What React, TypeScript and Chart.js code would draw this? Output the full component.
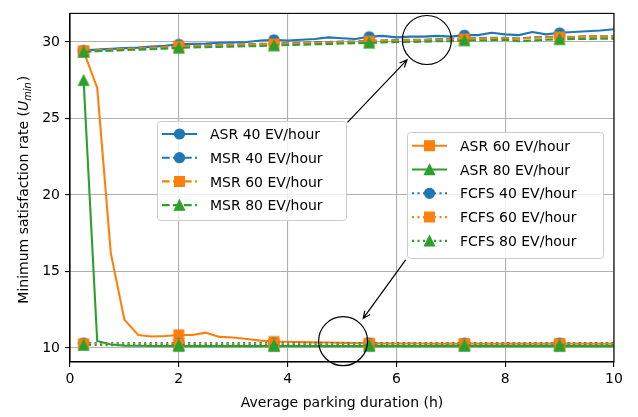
import React, { useEffect, useRef } from 'react';
import { Chart, registerables } from 'chart.js';

Chart.register(...registerables);

// ---------------- data ----------------
const durations = [0.25, 0.5, 0.75, 1, 1.25, 1.5, 1.75, 2, 2.25, 2.5, 2.75, 3, 3.25, 3.5, 3.75, 4, 4.25, 4.5, 4.75, 5,
  5.25, 5.5, 5.75, 6, 6.25, 6.5, 6.75, 7, 7.25, 7.5, 7.75, 8, 8.25, 8.5, 8.75, 9, 9.25, 9.5, 9.75, 10];

const asr40 = [29.45, 29.5, 29.55, 29.6, 29.63, 29.7, 29.75, 29.85, 29.88, 29.9, 29.95, 29.97, 30.0, 30.1, 30.15, 30.1,
  30.15, 30.2, 30.3, 30.25, 30.2, 30.35, 30.4, 30.3, 30.35, 30.35, 30.4, 30.35, 30.45, 30.45, 30.6, 30.5, 30.45, 30.65,
  30.5, 30.6, 30.65, 30.7, 30.75, 30.83];
const asr60 = [29.4, 27.0, 16.2, 11.85, 10.85, 10.75, 10.78, 10.85, 10.85, 11.0, 10.72, 10.68, 10.58, 10.48, 10.42, 10.4,
  10.38, 10.36, 10.35, 10.33, 10.32, 10.3, 10.3, 10.29, 10.3, 10.29, 10.28, 10.29, 10.28, 10.28, 10.29, 10.28,
  10.28, 10.29, 10.28, 10.28, 10.28, 10.29, 10.28, 10.28];
const asr80 = [27.5, 10.45, 10.22, 10.15, 10.14, 10.13, 10.13, 10.12, 10.12, 10.13, 10.12, 10.12, 10.13, 10.12, 10.12, 10.12,
  10.13, 10.12, 10.12, 10.12, 10.13, 10.12, 10.12, 10.12, 10.13, 10.12, 10.12, 10.12, 10.13, 10.12, 10.12, 10.12,
  10.13, 10.12, 10.12, 10.12, 10.13, 10.12, 10.12, 10.12];
const msr40 = [29.42, 29.47, 29.52, 29.57, 29.6, 29.65, 29.7, 29.75, 29.77, 29.79, 29.81, 29.83, 29.86, 29.88, 29.9, 29.93,
  29.95, 29.98, 30.0, 30.03, 30.03, 30.08, 30.1, 30.13, 30.15, 30.15, 30.18, 30.2, 30.23, 30.25, 30.28, 30.28, 30.23, 30.3,
  30.33, 30.35, 30.33, 30.38, 30.38, 30.38];
const msr60 = [29.4, 29.45, 29.5, 29.55, 29.58, 29.62, 29.67, 29.72, 29.74, 29.76, 29.78, 29.8, 29.83, 29.85, 29.87, 29.9,
  29.92, 29.95, 29.97, 30.0, 30.0, 30.05, 30.08, 30.1, 30.12, 30.12, 30.15, 30.18, 30.2, 30.22, 30.25, 30.25, 30.2, 30.28,
  30.3, 30.32, 30.3, 30.35, 30.35, 30.35];
const msr80 = [29.35, 29.4, 29.43, 29.47, 29.5, 29.53, 29.57, 29.62, 29.64, 29.66, 29.68, 29.7, 29.72, 29.74, 29.77, 29.8,
  29.82, 29.85, 29.87, 29.9, 29.92, 29.95, 29.97, 30.0, 30.0, 30.02, 30.05, 30.05, 30.1, 30.1, 30.12, 30.15, 30.05, 30.1,
  30.15, 30.18, 30.2, 30.2, 30.22, 30.22];
const fcfs40 = [10.33, 10.32, 10.32, 10.31, 10.32, 10.32, 10.31, 10.32, 10.32, 10.31, 10.32, 10.32, 10.31, 10.32, 10.32, 10.32,
  10.31, 10.32, 10.32, 10.32, 10.31, 10.32, 10.32, 10.32, 10.31, 10.32, 10.32, 10.32, 10.31, 10.32, 10.32, 10.32,
  10.31, 10.32, 10.32, 10.32, 10.31, 10.32, 10.32, 10.32];
const fcfs60 = [10.27, 10.26, 10.26, 10.26, 10.25, 10.26, 10.26, 10.26, 10.25, 10.26, 10.26, 10.26, 10.25, 10.26, 10.26, 10.26,
  10.25, 10.26, 10.26, 10.26, 10.25, 10.26, 10.26, 10.26, 10.25, 10.26, 10.26, 10.26, 10.25, 10.26, 10.26, 10.26,
  10.25, 10.26, 10.26, 10.26, 10.25, 10.26, 10.26, 10.26];
const fcfs80 = [10.19, 10.19, 10.18, 10.19, 10.19, 10.18, 10.19, 10.19, 10.18, 10.19, 10.19, 10.18, 10.19, 10.19, 10.18, 10.19,
  10.19, 10.18, 10.19, 10.19, 10.18, 10.19, 10.19, 10.18, 10.19, 10.19, 10.18, 10.19, 10.19, 10.18, 10.19, 10.19,
  10.18, 10.19, 10.19, 10.18, 10.19, 10.19, 10.18, 10.19];

const seriesLabels = ['ASR 40 EV/hour', 'ASR 60 EV/hour', 'ASR 80 EV/hour', 'MSR 40 EV/hour', 'MSR 60 EV/hour',
  'MSR 80 EV/hour', 'FCFS 40 EV/hour', 'FCFS 60 EV/hour', 'FCFS 80 EV/hour'];
const seriesValues = [asr40, asr60, asr80, msr40, msr60, msr80, fcfs40, fcfs60, fcfs80];

const legendLeft = ['ASR 40 EV/hour', 'MSR 40 EV/hour', 'MSR 60 EV/hour', 'MSR 80 EV/hour'];
const legendRight = ['ASR 60 EV/hour', 'ASR 80 EV/hour', 'FCFS 40 EV/hour', 'FCFS 60 EV/hour', 'FCFS 80 EV/hour'];

const xTicks = [0, 2, 4, 6, 8, 10];
const yTicks = [10, 15, 20, 25, 30];
const xTitle = 'Average parking duration (h)';
const yTitleMain = 'Minimum satisfaction rate (';
const yTitleVar = 'U';
const yTitleSub = 'min';
const yTitleEnd = ')';

// ---------------- styles ----------------
const FONT = "'DejaVu Sans'";
const BLUE = '#1f77b4';
const ORANGE = '#ff7f0e';
const GREEN = '#2ca02c';
const LW = 2.1;
const DASHES: Record<string, number[]> = { solid: [], dashed: [7.7, 3.3], dotted: [2.1, 3.4] };
const MARK_EVERY = 7;

type Style = { color: string; marker: string; line: string };
const STYLES: Record<string, Style> = {
  'ASR 40 EV/hour': { color: BLUE, marker: 'circle', line: 'solid' },
  'ASR 60 EV/hour': { color: ORANGE, marker: 'square', line: 'solid' },
  'ASR 80 EV/hour': { color: GREEN, marker: 'triangle', line: 'solid' },
  'MSR 40 EV/hour': { color: BLUE, marker: 'circle', line: 'dashed' },
  'MSR 60 EV/hour': { color: ORANGE, marker: 'square', line: 'dashed' },
  'MSR 80 EV/hour': { color: GREEN, marker: 'triangle', line: 'dashed' },
  'FCFS 40 EV/hour': { color: BLUE, marker: 'circle', line: 'dotted' },
  'FCFS 60 EV/hour': { color: ORANGE, marker: 'square', line: 'dotted' },
  'FCFS 80 EV/hour': { color: GREEN, marker: 'triangle', line: 'dotted' },
};

function markerPath(ctx: CanvasRenderingContext2D, marker: string, x: number, y: number) {
  ctx.beginPath();
  if (marker === 'circle') {
    ctx.arc(x, y, 5.0, 0, Math.PI * 2);
  } else if (marker === 'square') {
    ctx.rect(x - 4.9, y - 4.9, 9.8, 9.8);
  } else {
    ctx.moveTo(x, y - 5.1);
    ctx.lineTo(x - 5.1, y + 5.1);
    ctx.lineTo(x + 5.1, y + 5.1);
    ctx.closePath();
  }
}

function drawMarker(ctx: CanvasRenderingContext2D, marker: string, x: number, y: number, color: string) {
  ctx.save();
  ctx.setLineDash([]);
  ctx.fillStyle = color;
  ctx.strokeStyle = color;
  ctx.lineWidth = 1.2;
  ctx.lineJoin = 'miter';
  markerPath(ctx, marker, x, y);
  ctx.fill();
  ctx.stroke();
  ctx.restore();
}

function makeMarkerImage(marker: string, color: string): HTMLCanvasElement {
  const c = document.createElement('canvas');
  c.width = 16;
  c.height = 16;
  const ctx = c.getContext('2d')!;
  drawMarker(ctx, marker, 8, 8, color);
  return c;
}

// annotation geometry (data coordinates) and legend boxes (pixels)
const CIRCLES = [
  { x: 6.56, y: 30.13, r: 24.5 },
  { x: 5.02, y: 10.44, r: 24.5 },
];
const ARROWS = [
  { x0: 5.1, y0: 24.75, x1: 6.195, y1: 28.83 },
  { x0: 6.17, y0: 15.75, x1: 5.39, y1: 11.93 },
];
const LEGEND_BOXES = [
  { items: legendLeft, x: 157, y: 121, w: 189, h: 99, row0: 134, step: 23.7, hx0: 162, hx1: 197, tx: 210 },
  { items: legendRight, x: 407, y: 132, w: 196, h: 126, row0: 145.7, step: 23.8, hx0: 412, hx1: 447, tx: 460 },
];

function roundRect(ctx: CanvasRenderingContext2D, x: number, y: number, w: number, h: number, r: number) {
  ctx.beginPath();
  ctx.moveTo(x + r, y);
  ctx.lineTo(x + w - r, y);
  ctx.arcTo(x + w, y, x + w, y + r, r);
  ctx.lineTo(x + w, y + h - r);
  ctx.arcTo(x + w, y + h, x + w - r, y + h, r);
  ctx.lineTo(x + r, y + h);
  ctx.arcTo(x, y + h, x, y + h - r, r);
  ctx.lineTo(x, y + r);
  ctx.arcTo(x, y, x + r, y, r);
  ctx.closePath();
}

const decorPlugin = {
  id: 'decor',
  afterDraw(chart: any) {
    const { ctx, chartArea: a, scales } = chart;
    const xs = scales.x;
    const ys = scales.y;
    ctx.save();
    // frame
    ctx.setLineDash([]);
    ctx.strokeStyle = '#000';
    ctx.lineWidth = 1.1;
    ctx.strokeRect(a.left, a.top, a.right - a.left, a.bottom - a.top);

    // circles
    ctx.lineWidth = 1.2;
    for (const c of CIRCLES) {
      ctx.beginPath();
      ctx.arc(xs.getPixelForValue(c.x), ys.getPixelForValue(c.y), c.r, 0, Math.PI * 2);
      ctx.stroke();
    }
    // arrows
    ctx.lineWidth = 1.2;
    for (const ar of ARROWS) {
      const x0 = xs.getPixelForValue(ar.x0);
      const y0 = ys.getPixelForValue(ar.y0);
      const x1 = xs.getPixelForValue(ar.x1);
      const y1 = ys.getPixelForValue(ar.y1);
      const ang = Math.atan2(y1 - y0, x1 - x0);
      const L = 8;
      const h = 0.42;
      ctx.beginPath();
      ctx.moveTo(x0, y0);
      ctx.lineTo(x1, y1);
      ctx.moveTo(x1 - L * Math.cos(ang - h), y1 - L * Math.sin(ang - h));
      ctx.lineTo(x1, y1);
      ctx.lineTo(x1 - L * Math.cos(ang + h), y1 - L * Math.sin(ang + h));
      ctx.stroke();
    }

    // legends
    for (const lb of LEGEND_BOXES) {
      roundRect(ctx, lb.x + 0.5, lb.y + 0.5, lb.w, lb.h, 3);
      ctx.fillStyle = 'rgba(255,255,255,0.8)';
      ctx.fill();
      ctx.strokeStyle = '#cccccc';
      ctx.lineWidth = 1;
      ctx.stroke();
      lb.items.forEach((label, i) => {
        const st = STYLES[label];
        const cy = lb.row0 + i * lb.step;
        ctx.save();
        ctx.strokeStyle = st.color;
        ctx.lineWidth = LW;
        ctx.setLineDash(DASHES[st.line]);
        ctx.lineCap = 'butt';
        ctx.beginPath();
        ctx.moveTo(lb.hx0, cy);
        ctx.lineTo(lb.hx1, cy);
        ctx.stroke();
        ctx.restore();
        drawMarker(ctx, st.marker, (lb.hx0 + lb.hx1) / 2, cy, st.color);
        ctx.fillStyle = '#000';
        ctx.font = `14px ${FONT}`;
        ctx.textAlign = 'left';
        ctx.textBaseline = 'alphabetic';
        ctx.fillText(label, lb.tx, cy + 5.1);
      });
    }

    // y axis title with math subscript
    ctx.save();
    ctx.translate(27.5, (a.top + a.bottom) / 2 + 2);
    ctx.rotate(-Math.PI / 2);
    ctx.fillStyle = '#000';
    ctx.textBaseline = 'alphabetic';
    ctx.textAlign = 'left';
    const fMain = `14px ${FONT}`;
    const fIt = `italic 14px ${FONT}`;
    const fSub = `italic 9.8px ${FONT}`;
    ctx.font = fMain;
    const w1 = ctx.measureText(yTitleMain).width;
    const w4 = ctx.measureText(yTitleEnd).width;
    ctx.font = fIt;
    const w2 = ctx.measureText(yTitleVar).width;
    ctx.font = fSub;
    const w3 = ctx.measureText(yTitleSub).width;
    const total = w1 + w2 + w3 + w4 + 1;
    let x = -total / 2;
    ctx.font = fMain;
    ctx.fillText(yTitleMain, x, 0);
    x += w1;
    ctx.font = fIt;
    ctx.fillText(yTitleVar, x, 0);
    x += w2;
    ctx.font = fSub;
    ctx.fillText(yTitleSub, x, 3);
    x += w3 + 1;
    ctx.font = fMain;
    ctx.fillText(yTitleEnd, x, 0);
    ctx.restore();

    ctx.restore();
  },
};

export default function App() {
  const ref = useRef<HTMLCanvasElement | null>(null);

  useEffect(() => {
    const canvas = ref.current;
    if (!canvas) return;
    const images: Record<string, HTMLCanvasElement> = {};
    for (const label of seriesLabels) {
      const st = STYLES[label];
      images[label] = makeMarkerImage(st.marker, st.color);
    }
    const datasets = seriesLabels.map((label, i) => {
      const st = STYLES[label];
      return {
        label,
        data: durations.map((x, j) => ({ x, y: seriesValues[i][j] })),
        borderColor: st.color,
        backgroundColor: st.color,
        borderWidth: LW,
        borderDash: DASHES[st.line],
        borderCapStyle: st.line === 'solid' ? 'square' : 'butt',
        borderJoinStyle: 'round',
        pointStyle: images[label],
        pointRadius: (c: any) => (c.dataIndex % MARK_EVERY === 0 ? 5 : 0),
        pointHoverRadius: (c: any) => (c.dataIndex % MARK_EVERY === 0 ? 5 : 0),
        tension: 0,
        fill: false,
        order: -i,
      };
    });

    const gridCommon = {
      color: '#b0b0b0',
      lineWidth: 1.1,
      tickLength: 5,
      tickColor: '#000',
      tickWidth: 1.1,
      drawTicks: true,
    };
    const tickFont = { family: FONT, size: 14 };

    const chart = new Chart(canvas, {
      type: 'line',
      data: { datasets: datasets as any },
      options: {
        animation: false,
        responsive: false,
        events: [],
        layout: { padding: { left: 0, top: 10, right: 24, bottom: 0 } },
        plugins: { legend: { display: false }, tooltip: { enabled: false } },
        scales: {
          x: {
            type: 'linear',
            min: 0,
            max: 10,
            afterBuildTicks: (s: any) => {
              s.ticks = xTicks.map((v) => ({ value: v }));
            },
            afterFit: (s: any) => {
              s.height = 55;
            },
            grid: gridCommon,
            border: { display: true, color: '#000', width: 1.1 },
            ticks: { color: '#000', font: tickFont, padding: 4, maxRotation: 0, autoSkip: false },
            title: {
              display: true,
              text: xTitle,
              color: '#000',
              font: { family: FONT, size: 14 },
              padding: { top: 0, bottom: 5 },
            },
          },
          y: {
            type: 'linear',
            min: 9.08,
            max: 31.87,
            afterBuildTicks: (s: any) => {
              s.ticks = yTicks.map((v) => ({ value: v }));
            },
            afterFit: (s: any) => {
              s.width = 70;
            },
            grid: gridCommon,
            border: { display: true, color: '#000', width: 1.1 },
            ticks: { color: '#000', font: tickFont, padding: 5, autoSkip: false },
          },
        },
      } as any,
      plugins: [decorPlugin as any],
    });
    return () => chart.destroy();
  }, []);

  return (
    <div style={{ position: 'absolute', left: 0, top: 0, width: 638, height: 417, background: '#fff' }}>
      <canvas ref={ref} width={638} height={417} style={{ display: 'block' }} />
    </div>
  );
}
